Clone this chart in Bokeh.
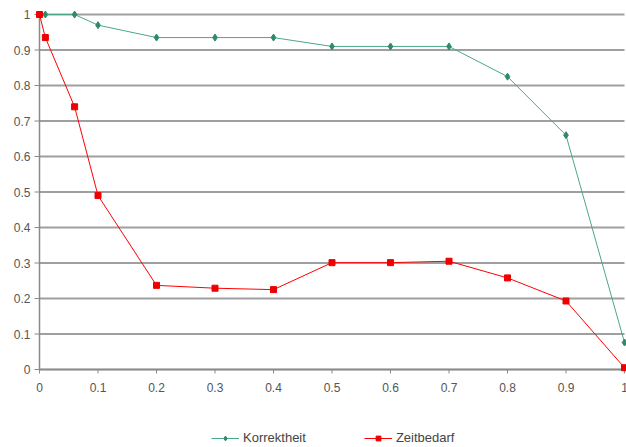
from bokeh.plotting import figure
from bokeh.models import Range1d, Legend, LegendItem
from bokeh.core.properties import value
from bokeh.embed import file_html
from bokeh.resources import INLINE

x_korr = [0.0, 0.01, 0.06, 0.1, 0.2, 0.3, 0.4, 0.5, 0.6, 0.7, 0.8, 0.9, 1.0]
y_korr = [1.0, 1.0, 1.0, 0.97, 0.935, 0.935, 0.935, 0.91, 0.91, 0.91, 0.825, 0.66, 0.076]
x_zeit = [0.0, 0.01, 0.06, 0.1, 0.2, 0.3, 0.4, 0.5, 0.6, 0.7, 0.8, 0.9, 1.0]
y_zeit = [1.0, 0.935, 0.74, 0.49, 0.237, 0.229, 0.225, 0.301, 0.301, 0.305, 0.258, 0.193, 0.005]
ticks = [0.0, 0.1, 0.2, 0.3, 0.4, 0.5, 0.6, 0.7, 0.8, 0.9, 1.0]
tick_labels = ["0", "0.1", "0.2", "0.3", "0.4", "0.5", "0.6", "0.7", "0.8", "0.9", "1"]

# layout: frame fills the whole canvas; data 0..1 maps to x 39..624 px, y 369..14 px
W, H = 626, 447
X0PX, X1PX = 39, 624
Y0PX, Y1PX = 369, 14
sx = X1PX - X0PX
sy = Y0PX - Y1PX
xr = Range1d(-X0PX / sx, (W - X0PX) / sx)
yr = Range1d(-(H - Y0PX) / sy, 1 + Y1PX / sy)

p = figure(frame_width=W, frame_height=H, output_backend="svg", toolbar_location=None,
           x_range=xr, y_range=yr, x_axis_location=None, y_axis_location=None,
           min_border=0)
p.outline_line_color = None
p.background_fill_color = "white"
p.grid.visible = False

n = len(ticks)
gx0 = [ticks[0]] * n
gx1 = [ticks[-1]] * n
p.segment(x0=gx0, y0=ticks, x1=gx1, y1=ticks, line_color="#9f9f9f", line_width=2)

tick_len_x = 5 / sx
tick_len_y = 4 / sy
# axis lines
p.segment(x0=[0, 0], y0=[0, 0], x1=[0, 1], y1=[1, 0], line_color="#8a8a8a", line_width=1.5)
# tick marks
p.segment(x0=[-tick_len_x] * n, y0=ticks, x1=[0] * n, y1=ticks, line_color="#8a8a8a", line_width=1)
p.segment(x0=ticks, y0=[0] * n, x1=ticks, y1=[-tick_len_y] * n, line_color="#8a8a8a", line_width=1)

# tick labels
p.text(x=[0] * n, y=ticks, text=tick_labels, x_offset=-9, text_align="right",
       text_baseline="middle", text_font=value("Liberation Sans"), text_font_size="12px",
       text_color="#555555")
p.text(x=ticks, y=[0] * n, text=tick_labels, y_offset=18, text_align="center",
       text_baseline="middle", text_font=value("Liberation Sans"), text_font_size="12px",
       text_color="#555555")

l1 = p.line(x_korr, y_korr, line_color="#4aa886", line_width=1)
m1 = p.scatter(x_korr, y_korr, marker="diamond", size=7, fill_color="#2e8a6a", line_color="#2e8a6a")
l2 = p.line(x_zeit, y_zeit, line_color="#ff0000", line_width=1)
m2 = p.scatter(x_zeit, y_zeit, marker="square", size=6, fill_color="#ee0000", line_color="#ee0000")

legend = Legend(items=[LegendItem(label="Korrektheit", renderers=[l1, m1]),
                       LegendItem(label="Zeitbedarf", renderers=[l2, m2])],
                orientation="horizontal", location=(211, 2),
                label_text_font="Liberation Sans", label_text_font_size="13px",
                label_text_color="#444444", border_line_color=None,
                background_fill_alpha=0, label_standoff=4,
                spacing=58, glyph_width=28, glyph_height=12, label_height=12,
                margin=0, padding=2)
p.add_layout(legend, "center")

open("out.html", "w").write(file_html(p, INLINE))
